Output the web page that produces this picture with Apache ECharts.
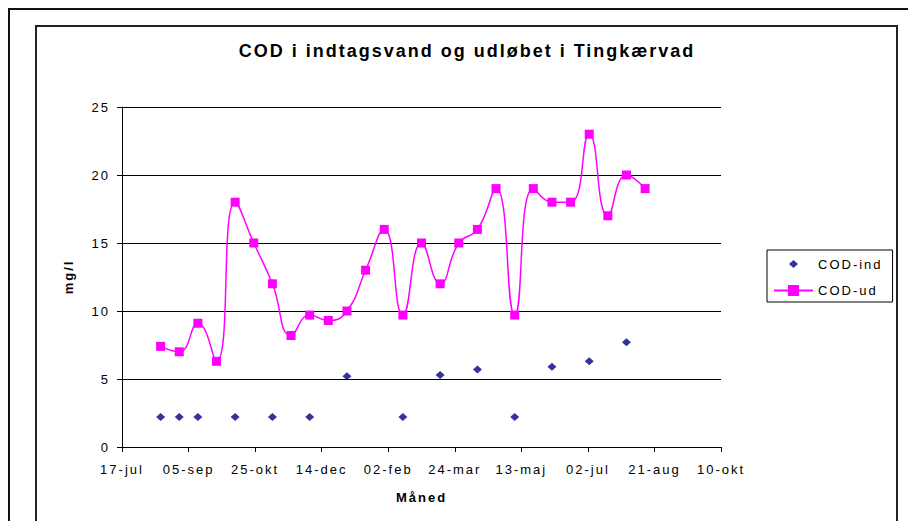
<!DOCTYPE html>
<html>
<head>
<meta charset="utf-8">
<script src="https://cdn.jsdelivr.net/npm/echarts@6/dist/echarts.min.js"></script>
<style>
  html, body { margin: 0; padding: 0; background: #fff; }
  #main { width: 908px; height: 521px; }
  /* Excel spreder bogstaverne lidt ud */
  #main text { letter-spacing: 2px; }
</style>
</head>
<body>
<div id="main"></div>
<script>
// prøvedatoer (hver 14. dag)
var datoer = [
    '2002-08-15', '2002-08-29', '2002-09-12', '2002-09-26', '2002-10-10',
    '2002-10-24', '2002-11-07', '2002-11-21', '2002-12-05', '2002-12-19',
    '2003-01-02', '2003-01-16', '2003-01-30', '2003-02-13', '2003-02-27',
    '2003-03-13', '2003-03-27', '2003-04-10', '2003-04-24', '2003-05-08',
    '2003-05-22', '2003-06-05', '2003-06-19', '2003-07-03', '2003-07-17',
    '2003-07-31', '2003-08-14'
];
var codInd = [2.2, 2.2, 2.2, null, 2.2, null, 2.2, null, 2.2, null,
    5.2, null, null, 2.2, null, 5.3, null, 5.7, null, 2.2,
    null, 5.9, null, 6.3, null, 7.7, null];
var codUd = [7.4, 7.0, 9.1, 6.3, 18, 15, 12, 8.2, 9.7, 9.3,
    10, 13, 16, 9.7, 15, 12, 15, 16, 19, 9.7,
    19, 18, 18, 23, 17, 20, 19];
var startDato = '2002-07-17';   // første aksemærke
var maaneder = ['jan', 'feb', 'mar', 'apr', 'maj', 'jun', 'jul', 'aug', 'sep', 'okt', 'nov', 'dec'];

var DAG = 86400000;
function tilDato(s) {
    var p = s.split('-');
    return Date.UTC(+p[0], +p[1] - 1, +p[2]);
}
var t0 = tilDato(startDato);
function dagNr(s) {
    return Math.round((tilDato(s) - t0) / DAG);
}
function datoTekst(v) {
    var d = new Date(t0 + v * DAG);
    var dd = d.getUTCDate();
    return (dd < 10 ? '0' + dd : dd) + '-' + maaneder[d.getUTCMonth()];
}

var indData = [];
var udData = [];
datoer.forEach(function (s, i) {
    if (codInd[i] != null) indData.push([dagNr(s), codInd[i]]);
    udData.push([dagNr(s), codUd[i]]);
});

// lille ruder i forklaringen (hjørnepunkterne holder ikonets størrelse)
var lilleRude = 'path://M0,0h0.05v0.05h-0.05z M39,14h-0.05v-0.05h0.05z M19.5,3 L24,7 L19.5,11 L15,7 Z';

var font = 'Liberation Sans, Arial, sans-serif';
var myChart = echarts.init(document.getElementById('main'), null, { renderer: 'svg' });

var option = {
    backgroundColor: '#fff',
    animation: false,
    title: {
        text: 'COD i indtagsvand og udløbet i Tingkærvad',
        left: 462,
        textAlign: 'center',
        top: 37,
        textStyle: { fontFamily: font, fontSize: 18, fontWeight: 'bold', color: '#000' }
    },
    legend: {
        orient: 'vertical',
        left: 767,
        top: 250,
        padding: [7, 24, 5, 6],
        itemWidth: 39,
        itemHeight: 14,
        itemGap: 13,
        borderColor: '#000',
        borderWidth: 1,
        textStyle: { fontFamily: font, fontSize: 13, color: '#000' },
        data: [{ name: 'COD-ind', icon: lilleRude }, 'COD-ud']
    },
    grid: { left: 122, right: 187, top: 107, bottom: 74 },
    xAxis: {
        type: 'value',
        min: 0,
        max: 450,
        interval: 50,
        name: 'Måned',
        nameLocation: 'middle',
        nameGap: 44,
        nameTextStyle: { fontFamily: font, fontSize: 13, fontWeight: 'bold', color: '#000' },
        axisLine: { lineStyle: { color: '#000', width: 1 } },
        axisTick: { length: 5, lineStyle: { color: '#000' } },
        axisLabel: {
            fontFamily: font, fontSize: 13, color: '#000', margin: 16,
            formatter: datoTekst
        },
        splitLine: { show: false }
    },
    yAxis: {
        type: 'value',
        min: 0,
        max: 25,
        interval: 5,
        name: 'mg/l',
        nameLocation: 'middle',
        nameGap: 47,
        nameTextStyle: { fontFamily: font, fontSize: 13, fontWeight: 'bold', color: '#000' },
        axisLine: { show: true, lineStyle: { color: '#000', width: 1 } },
        axisTick: { show: true, length: 5, lineStyle: { color: '#000' } },
        axisLabel: { fontFamily: font, fontSize: 13, color: '#000', margin: 12 },
        splitLine: { lineStyle: { color: '#000', width: 1 } }
    },
    series: [
        {
            name: 'COD-ind',
            type: 'scatter',
            symbol: 'diamond',
            symbolSize: [9, 8],
            itemStyle: { color: '#000080' },
            data: indData
        },
        {
            name: 'COD-ud',
            type: 'line',
            smooth: 0.5,
            symbol: 'rect',
            symbolSize: 9,
            showAllSymbol: true,
            lineStyle: { color: '#ff00ff', width: 1.5 },
            itemStyle: { color: '#ff00ff', borderWidth: 0 },
            data: udData
        }
    ],
    graphic: [
        // ydre og indre ramme
        { type: 'polyline', silent: true, shape: { points: [[9, 530], [9, 9], [910, 9]] },
          style: { stroke: '#111', lineWidth: 2, fill: null } },
        { type: 'polyline', silent: true, shape: { points: [[36, 530], [36, 26], [897, 26], [897, 530]] },
          style: { stroke: '#222', lineWidth: 2, fill: null } }
    ]
};

myChart.setOption(option);
</script>
</body>
</html>
